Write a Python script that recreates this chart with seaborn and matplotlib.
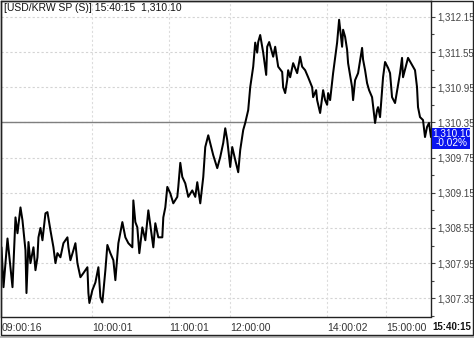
import matplotlib
matplotlib.use("Agg")
import matplotlib.pyplot as plt
from matplotlib.patches import Rectangle
from matplotlib.ticker import AutoMinorLocator
import numpy as np
import pandas as pd
import seaborn as sns

# ---- data ----
tick_index = [1, 3, 7, 12, 15, 17, 20, 22, 25, 26, 28, 30, 33, 35, 37, 38, 40, 42, 45, 47,
              50, 53, 55, 57, 60, 63, 67, 68, 70, 73, 75, 77, 80, 83, 87, 88, 89, 92, 95, 98,
              100, 102, 105, 107, 110, 113, 115, 118, 122, 125, 128, 132, 133, 135, 137, 139,
              142, 145, 148, 153, 155, 158, 162, 163, 165, 167, 170, 173, 177, 178, 180, 182,
              185, 188, 192, 195, 197, 200, 203, 205, 208, 213, 217, 220, 223, 225, 227, 230,
              232, 235, 238, 240, 243, 245, 248, 250, 253, 255, 257, 258, 260, 263, 266, 267,
              269, 273, 275, 277, 278, 282, 283, 285, 287, 288, 290, 293, 297, 300, 302, 305,
              308, 312, 313, 316, 317, 320, 323, 325, 327, 328, 330, 333, 337, 339, 342, 343,
              345, 347, 348, 352, 353, 355, 358, 362, 363, 365, 367, 369, 372, 375, 377, 378,
              380, 383, 385, 388, 390, 392, 395, 400, 402, 403, 408, 412, 415, 417, 418, 420,
              423, 425, 427, 429, 431]
price = [1308.22, 1307.54, 1308.37, 1307.54, 1308.73, 1308.46, 1308.90, 1308.68, 1308.17, 1307.44,
         1308.31, 1307.95, 1308.22, 1307.83, 1308.05, 1308.39, 1308.55, 1308.34, 1308.80, 1308.82,
         1308.51, 1308.22, 1307.95, 1308.12, 1308.05, 1308.29, 1308.39, 1308.22, 1308.00, 1308.17,
         1308.29, 1307.95, 1307.71, 1307.78, 1307.88, 1307.44, 1307.27, 1307.49, 1307.62, 1307.88,
         1307.37, 1307.28, 1307.83, 1308.26, 1308.12, 1308.00, 1307.66, 1308.29, 1308.65, 1308.39,
         1308.29, 1308.22, 1309.02, 1308.65, 1308.56, 1308.12, 1308.56, 1308.34, 1308.85, 1308.22,
         1308.63, 1308.39, 1308.39, 1308.73, 1308.90, 1309.25, 1309.14, 1308.97, 1309.08, 1309.25,
         1309.66, 1309.42, 1309.31, 1309.08, 1309.19, 1309.08, 1309.33, 1308.97, 1309.42, 1309.93,
         1310.13, 1309.79, 1309.57, 1309.76, 1310.00, 1310.25, 1310.05, 1309.59, 1309.93, 1309.71,
         1309.50, 1309.88, 1310.22, 1310.34, 1310.56, 1310.95, 1311.30, 1311.71, 1311.54, 1311.72,
         1311.84, 1311.54, 1311.16, 1311.64, 1311.72, 1311.47, 1311.64, 1311.42, 1311.30, 1311.21,
         1310.95, 1310.85, 1311.07, 1311.24, 1311.12, 1311.36, 1311.19, 1311.47, 1311.30, 1311.24,
         1311.12, 1310.95, 1310.78, 1310.90, 1310.73, 1310.51, 1310.90, 1310.73, 1310.65, 1310.85,
         1310.73, 1311.19, 1311.71, 1312.10, 1311.64, 1311.93, 1311.81, 1311.59, 1311.36, 1310.95,
         1310.73, 1311.07, 1311.19, 1311.62, 1311.42, 1311.24, 1311.02, 1310.90, 1310.78, 1310.34,
         1310.56, 1310.61, 1310.44, 1311.12, 1311.38, 1311.28, 1311.19, 1310.78, 1310.68, 1311.19,
         1311.45, 1311.12, 1311.45, 1311.33, 1311.24, 1310.95, 1310.61, 1310.44, 1310.39, 1310.10,
         1310.27, 1310.34, 1310.10]

time_ticks = [1, 92, 169, 230, 327, 386]
time_labels = ["09:00:16", "10:00:01", "11:00:01", "12:00:00", "14:00:02", "15:00:00"]
last_time = "15:40:15"
price_ticks = [1307.35, 1307.95, 1308.55, 1309.15, 1309.75, 1310.35, 1310.95, 1311.55, 1312.15]
prev_close = 1310.35
last_price = 1310.10
change_pct = "-0.02%"
title = "[USD/KRW SP (S)] 15:40:15  1,310.10"

# ---- figure ----
sns.set_theme(style="white")
plt.rcParams["font.family"] = ["Liberation Sans", "DejaVu Sans"]
W, H = 474, 338
fig = plt.figure(figsize=(W / 100, H / 100), dpi=100)
fig.patch.set_facecolor("white")

def fx(px):
    return px / W

def fy(py):
    return 1 - py / H

ax = fig.add_axes([fx(0.5), fy(316.5), fx(431) - fx(0.5), fy(1) - fy(316.5)])
df = pd.DataFrame({"t": tick_index, "p": price})
sns.lineplot(data=df, x="t", y="p", ax=ax, color="black", linewidth=1.45, estimator=None, sort=False)

ax.set_xlim(0, 431)
ax.set_ylim(1307.04, 1312.42)
ax.axhline(prev_close, color="#7f7f7f", linewidth=1.0, zorder=1)

# grid
for yv in price_ticks:
    ax.axhline(yv, color="#d4d4d4", linewidth=0.8, linestyle=(0, (2, 2)), zorder=0)
for xv in time_ticks[1:]:
    ax.axvline(xv, color="#dcdcdc", linewidth=0.8, linestyle=(0, (2, 2)), zorder=0)

# y axis on right
ax.yaxis.tick_right()
ax.set_yticks(price_ticks)
ax.set_yticklabels([f"{v:,.2f}" for v in price_ticks])
ax.yaxis.set_minor_locator(AutoMinorLocator(2))
ax.tick_params(axis="y", which="major", direction="out", length=3, width=0.8, color="#444444",
               labelsize=7, pad=1.2, labelcolor="#444444", right=True, left=False)
ax.tick_params(axis="y", which="minor", direction="out", length=2, width=0.8, color="#444444",
               right=True, left=False)
ax.set_ylabel("")

# x axis labels
ax.set_xticks(time_ticks)
ax.set_xticklabels(time_labels)
for lab in ax.get_xticklabels():
    lab.set_horizontalalignment("left")
ax.tick_params(axis="x", which="both", length=0, labelsize=7.5, pad=5, labelcolor="#333333")
ax.set_xlabel("")

for s in ax.spines.values():
    s.set_visible(True)
    s.set_color("#222222")
    s.set_linewidth(1.0)

# title inside plot
ax.text(fx(3) / (fx(431) - fx(0.5)), 0.995, title, transform=ax.transAxes, fontsize=7.5,
        va="top", ha="left", color="#111111")

# outer frame
frame = Rectangle((fx(0.5), fy(335)), fx(473) - fx(0.5), fy(0.5) - fy(335), transform=fig.transFigure,
                  fill=False, edgecolor="#222222", linewidth=1.0, zorder=5)
fig.patches.append(frame)
fig.patches.append(Rectangle((0, 0), 1, fy(336), transform=fig.transFigure,
                             facecolor="#b8b8b8", edgecolor="none", zorder=4))

# last time label bold
fig.text(fx(432.5), fy(327.5), last_time, fontsize=7, fontweight="bold", va="center", ha="left",
         color="#111111")

# blue last-price box
fig.patches.append(Rectangle((fx(432), fy(149)), fx(470) - fx(432), fy(128) - fy(149),
                             transform=fig.transFigure, facecolor="#0a14f0", edgecolor="none", zorder=6))
fig.text(fx(451.5), fy(133.5), f"{last_price:,.2f}", fontsize=7.2, color="white", ha="center", va="center",
         zorder=7)
fig.text(fx(451.5), fy(143.5), change_pct, fontsize=7.2, color="white", ha="center", va="center", zorder=7)

fig.savefig("out.png", dpi=100)
